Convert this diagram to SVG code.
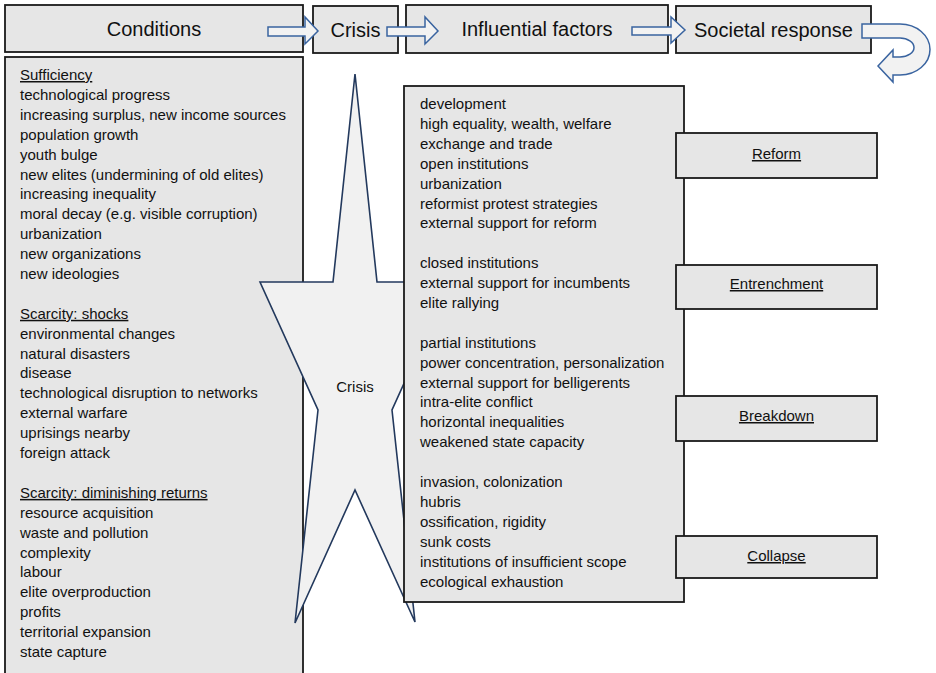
<svg xmlns="http://www.w3.org/2000/svg" width="936" height="673" viewBox="0 0 936 673">
<style>
.box{fill:#e6e6e6;stroke:#1a1a1a;stroke-width:1.8}
.arr{fill:#f2f2f2;stroke:#3a64a0;stroke-width:1.5;stroke-linejoin:miter}
.star{fill:#f1f1f1;stroke:#23395d;stroke-width:1.6;stroke-linejoin:miter}
.hd{font-family:"Liberation Sans",Arial,sans-serif;font-size:20px;fill:#111;text-anchor:middle}
.t{font-family:"Liberation Sans",Arial,sans-serif;font-size:15px;fill:#111}
.u{text-decoration:underline}
.lbl{font-family:"Liberation Sans",Arial,sans-serif;font-size:15px;fill:#111;text-anchor:middle;text-decoration:underline}
</style>
<rect width="936" height="673" fill="#ffffff"/>

<g id="conditions-header">
<rect class="box" x="5" y="5" width="298" height="47"/>
<text class="hd" x="154" y="36">Conditions</text>
</g>
<g id="crisis-header">
<rect class="box" x="313" y="6" width="85" height="47"/>
<text class="hd" x="355.5" y="37">Crisis</text>
</g>
<g id="influential-header">
<rect class="box" x="406" y="5" width="262" height="48"/>
<text class="hd" x="537" y="36">Influential factors</text>
</g>
<g id="response-header">
<rect class="box" x="676" y="6" width="195" height="47"/>
<text class="hd" x="773.5" y="37">Societal response</text>
</g>

<g id="conditions-list">
<rect class="box" x="5" y="57" width="298" height="630"/>
<text class="t" x="20" y="80">
<tspan x="20" y="80" class="u">Sufficiency</tspan>
<tspan x="20" dy="19.9">technological progress</tspan>
<tspan x="20" dy="19.9">increasing surplus, new income sources</tspan>
<tspan x="20" dy="19.9">population growth</tspan>
<tspan x="20" dy="19.9">youth bulge</tspan>
<tspan x="20" dy="19.9">new elites (undermining of old elites)</tspan>
<tspan x="20" dy="19.9">increasing inequality</tspan>
<tspan x="20" dy="19.9">moral decay (e.g. visible corruption)</tspan>
<tspan x="20" dy="19.9">urbanization</tspan>
<tspan x="20" dy="19.9">new organizations</tspan>
<tspan x="20" dy="19.9">new ideologies</tspan>
<tspan x="20" dy="39.8" class="u">Scarcity: shocks</tspan>
<tspan x="20" dy="19.9">environmental changes</tspan>
<tspan x="20" dy="19.9">natural disasters</tspan>
<tspan x="20" dy="19.9">disease</tspan>
<tspan x="20" dy="19.9">technological disruption to networks</tspan>
<tspan x="20" dy="19.9">external warfare</tspan>
<tspan x="20" dy="19.9">uprisings nearby</tspan>
<tspan x="20" dy="19.9">foreign attack</tspan>
<tspan x="20" dy="39.8" class="u">Scarcity: diminishing returns</tspan>
<tspan x="20" dy="19.9">resource acquisition</tspan>
<tspan x="20" dy="19.9">waste and pollution</tspan>
<tspan x="20" dy="19.9">complexity</tspan>
<tspan x="20" dy="19.9">labour</tspan>
<tspan x="20" dy="19.9">elite overproduction</tspan>
<tspan x="20" dy="19.9">profits</tspan>
<tspan x="20" dy="19.9">territorial expansion</tspan>
<tspan x="20" dy="19.9">state capture</tspan>
</text>
</g>

<g id="crisis-star">
<polygon class="star" points="355,74 377,282 450,282 392,410 415,622 355,490 295,623 318,410 260,282 333,282"/>
<text class="t" x="355" y="392" text-anchor="middle">Crisis</text>
</g>

<g id="influential-list">
<rect class="box" x="404" y="86" width="280" height="516"/>
<text class="t" x="420" y="109">
<tspan x="420" y="109">development</tspan>
<tspan x="420" dy="19.9">high equality, wealth, welfare</tspan>
<tspan x="420" dy="19.9">exchange and trade</tspan>
<tspan x="420" dy="19.9">open institutions</tspan>
<tspan x="420" dy="19.9">urbanization</tspan>
<tspan x="420" dy="19.9">reformist protest strategies</tspan>
<tspan x="420" dy="19.9">external support for reform</tspan>
<tspan x="420" dy="39.8">closed institutions</tspan>
<tspan x="420" dy="19.9">external support for incumbents</tspan>
<tspan x="420" dy="19.9">elite rallying</tspan>
<tspan x="420" dy="39.8">partial institutions</tspan>
<tspan x="420" dy="19.9">power concentration, personalization</tspan>
<tspan x="420" dy="19.9">external support for belligerents</tspan>
<tspan x="420" dy="19.9">intra-elite conflict</tspan>
<tspan x="420" dy="19.9">horizontal inequalities</tspan>
<tspan x="420" dy="19.9">weakened state capacity</tspan>
<tspan x="420" dy="39.8">invasion, colonization</tspan>
<tspan x="420" dy="19.9">hubris</tspan>
<tspan x="420" dy="19.9">ossification, rigidity</tspan>
<tspan x="420" dy="19.9">sunk costs</tspan>
<tspan x="420" dy="19.9">institutions of insufficient scope</tspan>
<tspan x="420" dy="19.9">ecological exhaustion</tspan>
</text>
</g>

<g id="reform">
<rect class="box" x="676" y="133" width="201" height="45"/>
<text class="lbl" x="776.5" y="159">Reform</text>
</g>
<g id="entrenchment">
<rect class="box" x="676" y="265" width="201" height="44"/>
<text class="lbl" x="776.5" y="289">Entrenchment</text>
</g>
<g id="breakdown">
<rect class="box" x="676" y="396" width="201" height="45"/>
<text class="lbl" x="776.5" y="421">Breakdown</text>
</g>
<g id="collapse">
<rect class="box" x="676" y="536" width="201" height="42"/>
<text class="lbl" x="776.5" y="561">Collapse</text>
</g>

<g id="connectors">
<path class="arr" d="M268,27 H305 V17 L318,31 L305,44 V36 H268 Z"/>
<path class="arr" d="M387,27 H425 V17 L438,31 L425,44 V36 H387 Z"/>
<path class="arr" d="M632,27 H671 V17 L685,30 L671,43 V35 H632 Z"/>
<path class="arr" d="M862,24 H900 A30,25.5 0 0 1 900,75 H893 V82 L878,66 L893,50 V57 H900 A14,9.5 0 0 0 900,38 H862 Z"/>
</g>
</svg>
